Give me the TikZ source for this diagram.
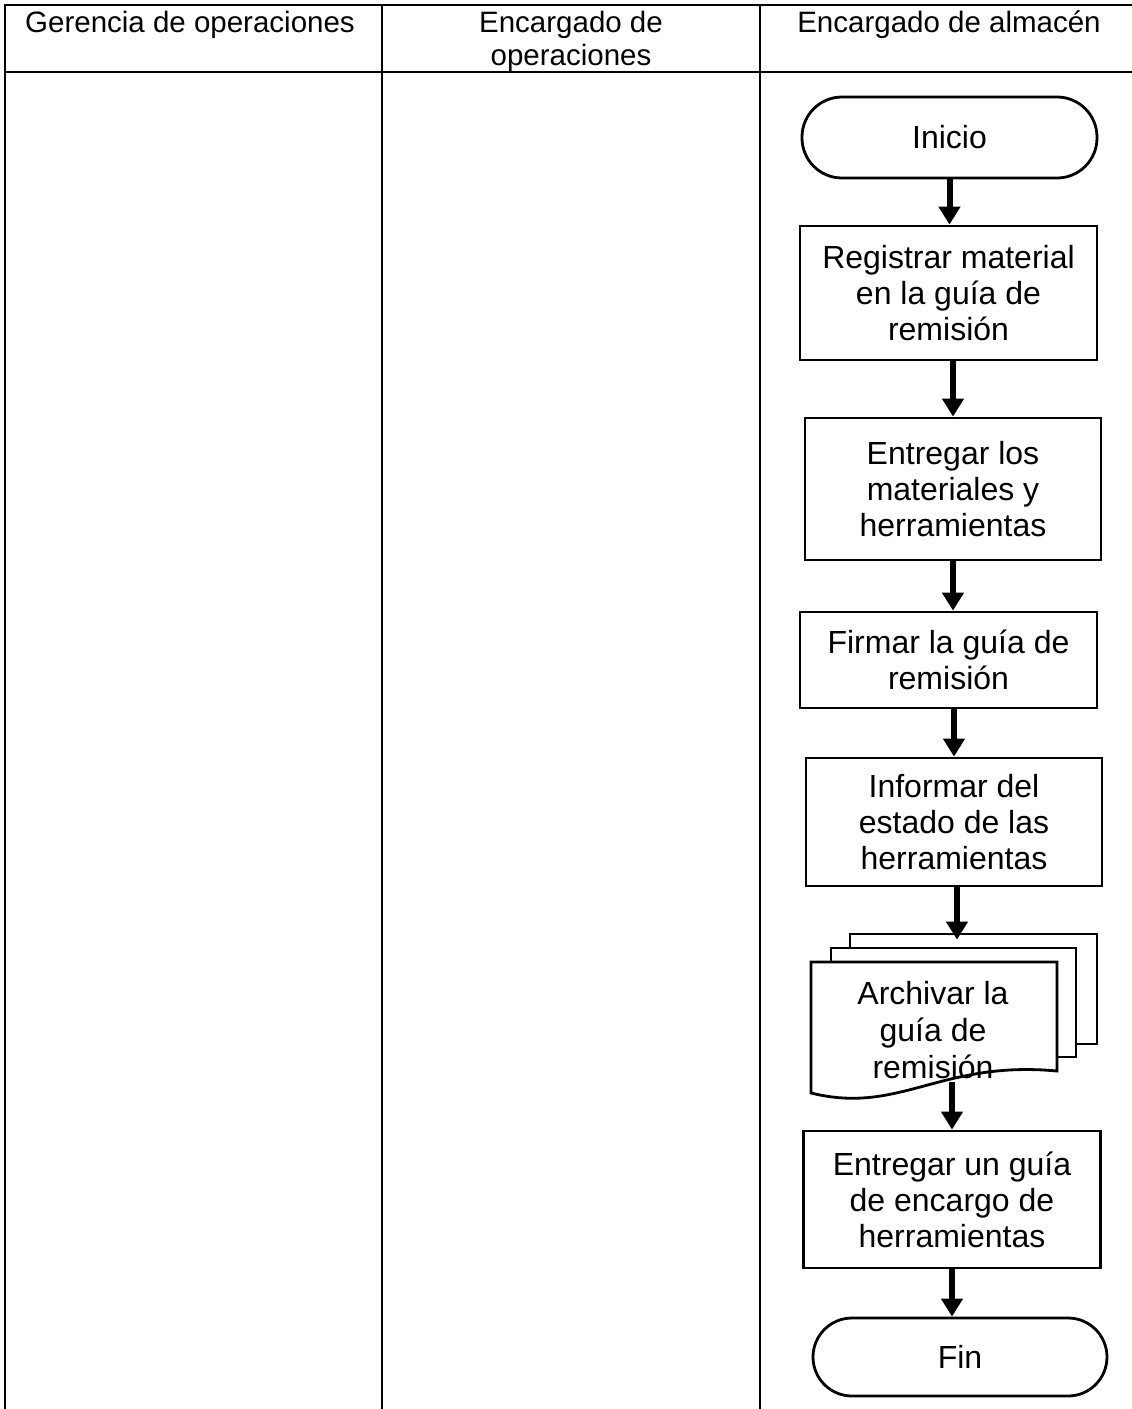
\documentclass[tikz,border=0pt]{standalone}
\usepackage{fontspec}
\setmainfont{Liberation Sans}
\usetikzlibrary{arrows.meta,calc}

\tikzset{
  rejilla/.style={line width=2.8pt, line cap=rect},
  titulo/.style={font=\fontsize{29.5}{33}\selectfont, align=center, inner sep=0pt, anchor=north},
  proceso/.style={draw, line width=2.8pt, fill=white, align=center, inner sep=0pt,
    font=\fontsize{32}{36}\selectfont},
  terminal/.style={proceso, rounded corners=39pt},
  hoja/.style={draw, line width=2.8pt, fill=white, inner sep=0pt},
  flecha/.style={line width=6pt, -{Triangle[width=21pt,length=18pt]}},
}

\begin{document}
\begin{tikzpicture}[x=1pt, y=-1pt]
\useasboundingbox (0,0) rectangle (1132,1409);

% swimlane grid
\draw[rejilla] (5,5) -- (1132,5);
\draw[rejilla] (5,72) -- (1132,72);
\draw[rejilla] (5,5) -- (5,1409);
\draw[rejilla] (382,5) -- (382,1409);
\draw[rejilla] (760,5) -- (760,1409);

% lane titles
\node[titulo] (carril1) at (190,9) {\strut Gerencia de operaciones};
\node[titulo] (carril2) at (571,9) {\strut Encargado de\\operaciones};
\node[titulo] (carril3) at (949,9) {\strut Encargado de almac\'en};

% flow steps
\node[terminal, minimum width=295pt, minimum height=81pt, rounded corners=40pt] (inicio) at (949.5,137.5) {Inicio};
\node[proceso, minimum width=297pt, minimum height=134pt] (registro) at (948.5,293) {Registrar material\\en la gu\'ia de\\remisi\'on};
\node[proceso, minimum width=296pt, minimum height=142pt] (entrega) at (953,489) {Entregar los\\materiales y\\herramientas};
\node[proceso, minimum width=297pt, minimum height=96pt] (firma) at (948.5,660) {Firmar la gu\'ia de\\remisi\'on};
\node[proceso, minimum width=296pt, minimum height=128pt] (informe) at (954,822) {Informar del\\estado de las\\herramientas};

% stacked documents
\node[hoja, minimum width=247pt, minimum height=110pt] (hoja3) at (973.5,989) {};
\node[hoja, minimum width=245pt, minimum height=109pt] (hoja2) at (953.5,1002.5) {};
\draw[line width=2.8pt, fill=white] (811,962) -- (1057,962) -- (1057,1071)
  .. controls (940,1060) and (900,1115) .. (811,1093) -- cycle;
\node[align=center, inner sep=0pt, font=\fontsize{32}{37}\selectfont] (archivo) at (933,1030) {Archivar la\\gu\'ia de\\remisi\'on};
\coordinate (salidaPila) at (952,1082);

\node[proceso, minimum width=297pt, minimum height=137pt] (encargo) at (952,1199.5) {Entregar un gu\'ia\\de encargo de\\herramientas};
\node[terminal, minimum width=294pt, minimum height=78pt] (fin) at (960,1357) {Fin};

% connectors
\draw[flecha] (inicio.south) -- (inicio.south |- registro.north);
\draw[flecha] (entrega.north |- registro.south) -- (entrega.north);
\draw[flecha] (entrega.south) -- (entrega.south |- firma.north);
\draw[flecha] (informe.north |- firma.south) -- (informe.north);
\draw[flecha] ($(informe.south)+(3,0)$) -- ($(informe.south |- hoja3.north)+(3,7)$);
\draw[flecha] (salidaPila) -- (encargo.north);
\draw[flecha] (encargo.south) -- (encargo.south |- fin.north);
\end{tikzpicture}
\end{document}
